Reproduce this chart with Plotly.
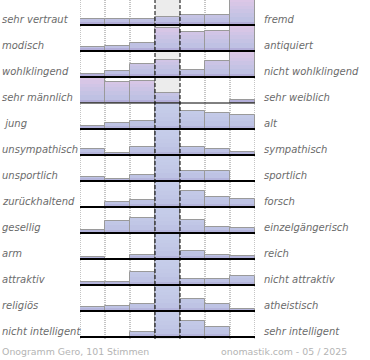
import plotly.graph_objects as go

# ---- data -------------------------------------------------------------
left_labels = ["sehr vertraut", "modisch", "wohlklingend", "sehr männlich", "\u00a0jung",
               "unsympathisch", "unsportlich", "zurückhaltend", "gesellig", "arm",
               "attraktiv", "religiös", "nicht intelligent"]
right_labels = ["fremd", "antiquiert", "nicht wohlklingend", "sehr weiblich", "alt",
                "sympathisch", "sportlich", "forsch", "einzelgängerisch", "reich",
                "nicht attraktiv", "atheistisch", "sehr intelligent"]

# percentage of votes per scale position (1 = left adjective ... 7 = right adjective)
scale_1 = [4.5, 3.0, 2.0, 57.0, 2.0, 4.5, 3.0, 0.0, 2.5, 1.5, 2.0, 3.0, 0.0]
scale_2 = [4.5, 4.0, 5.0, 16.0, 4.5, 1.5, 1.5, 3.5, 9.5, 0.0, 2.0, 4.0, 0.0]
scale_3 = [4.5, 6.0, 10.0, 17.0, 6.0, 6.5, 5.0, 5.5, 11.5, 3.0, 10.0, 5.5, 3.5]
scale_4 = [6.5, 17.5, 13.0, 7.5, 51.0, 74.5, 74.5, 65.5, 57.5, 83.5, 69.0, 71.5, 77.0]
scale_5 = [7.5, 14.5, 5.5, 0.0, 13.5, 6.5, 8.0, 12.0, 10.0, 6.5, 5.0, 9.0, 12.0]
scale_6 = [7.5, 15.5, 12.0, 0.0, 12.5, 4.5, 8.0, 7.5, 5.0, 3.0, 5.0, 5.5, 7.5]
scale_7 = [65.0, 39.5, 52.5, 2.5, 10.5, 2.0, 0.0, 6.0, 4.0, 2.5, 7.0, 1.5, 0.0]

footer_left = "Onogramm Gero, 101 Stimmen"
footer_right = "onomastik.com - 05 / 2025"

# ---- styling ----------------------------------------------------------
columns = [scale_1, scale_2, scale_3, scale_4, scale_5, scale_6, scale_7]
n_rows = len(left_labels)
n_cols = len(columns)
FULL_PCT = 20.0  # percentage that fills one row band

bands = [(0.0, 0.05), (0.05, 0.12), (0.12, 0.30), (0.30, 0.45),
         (0.45, 0.60), (0.60, 0.75), (0.75, 0.88), (0.88, 1.0)]
pink_theme = ["#9f96c9", "#b3aed9", "#bfc1e3", "#c5c3e4", "#cbc4e5", "#d1c5e6", "#d7c6e6", "#dcc7e7"]
blue_theme = ["#a29bca", "#b5b5dc", "#bec3e4", "#c1c7e6", "#c3c9e7", "#c4cbe8", "#c5cce9", "#c6cde9"]

fig = go.Figure()

heights = {}
for r in range(n_rows):
    for c in range(n_cols):
        heights[(r, c)] = min(columns[c][r] / FULL_PCT, 1.0)

for b, (lo, hi) in enumerate(bands):
    xs, bs, ys, cols = [], [], [], []
    for r in range(n_rows):
        base = n_rows - 1 - r
        theme = pink_theme if r < 4 else blue_theme
        for c in range(n_cols):
            h = heights[(r, c)]
            seg = min(h, hi) - lo
            if seg > 0:
                xs.append(c)
                bs.append(base + lo)
                ys.append(seg)
                cols.append(theme[b])
    fig.add_trace(go.Bar(x=xs, y=ys, base=bs, width=1.0,
                         marker=dict(color=cols, line=dict(width=0)),
                         hoverinfo="skip"))

# outline of each bar
xs, bs, ys = [], [], []
for r in range(n_rows):
    base = n_rows - 1 - r
    for c in range(n_cols):
        h = heights[(r, c)]
        if h > 0:
            xs.append(c)
            bs.append(base)
            ys.append(h)
fig.add_trace(go.Bar(x=xs, y=ys, base=bs, width=1.0,
                     marker=dict(color="rgba(0,0,0,0)", line=dict(color="#9a9a9a", width=1)),
                     hoverinfo="skip"))

shapes = []
# neutral middle column background
shapes.append(dict(type="rect", xref="x", yref="paper", x0=2.5, x1=3.5, y0=0, y1=1,
                   fillcolor="#ececec", line=dict(width=0), layer="below"))
# dotted column separators
for xv in [-0.5, 0.5, 1.5, 4.5, 5.5, 6.5]:
    shapes.append(dict(type="line", xref="x", yref="paper", x0=xv, x1=xv, y0=0, y1=1,
                       line=dict(color="#8a8a8a", width=1, dash="1px,1px"), layer="below"))
# dashed middle column borders
for xv in [2.5, 3.5]:
    shapes.append(dict(type="line", xref="x", yref="paper", x0=xv, x1=xv, y0=0, y1=1,
                       line=dict(color="#000000", width=1, dash="4px,2px"), layer="above"))
# row baselines
for r in range(n_rows):
    base = n_rows - 1 - r
    shapes.append(dict(type="line", xref="x", yref="y", x0=-0.5, x1=6.5, y0=base, y1=base,
                       line=dict(color="#000000", width=1 if r == 3 else 2), layer="above"))

label_font = dict(family="DejaVu Sans", size=10, color="#6b6b6b", style="italic")
annotations = []
PLOT_L, PLOT_W = 80, 175
for r in range(n_rows):
    base = n_rows - 1 - r
    annotations.append(dict(text=left_labels[r], xref="paper", yref="y",
                            x=(0 - PLOT_L) / PLOT_W, y=base + 0.21,
                            xanchor="left", yanchor="middle", showarrow=False, font=label_font))
    annotations.append(dict(text=right_labels[r], xref="paper", yref="y",
                            x=(262 - PLOT_L) / PLOT_W, y=base + 0.21,
                            xanchor="left", yanchor="middle", showarrow=False, font=label_font))

footer_font = dict(family="DejaVu Sans", size=9.4, color="#b4b4b4")
annotations.append(dict(text=footer_left, xref="paper", yref="paper",
                        x=(0 - PLOT_L) / PLOT_W, y=(339 - 351) / 339,
                        xanchor="left", yanchor="middle", showarrow=False, font=footer_font))
annotations.append(dict(text=footer_right, xref="paper", yref="paper",
                        x=(219 - PLOT_L) / PLOT_W, y=(339 - 351) / 339,
                        xanchor="left", yanchor="middle", showarrow=False, font=footer_font))

fig.update_layout(
    width=370, height=360, autosize=False,
    margin=dict(l=80, r=115, t=0, b=21, pad=0),
    paper_bgcolor="white", plot_bgcolor="white",
    barmode="overlay", bargap=0, showlegend=False,
    xaxis=dict(range=[-0.5, 6.5], showgrid=False, zeroline=False, showticklabels=False,
               showline=False, fixedrange=True),
    yaxis=dict(range=[-2 / 26, 337 / 26], showgrid=False, zeroline=False, showticklabels=False,
               showline=False, fixedrange=True),
    shapes=shapes, annotations=annotations,
)

fig.write_html("out.html", config={"displayModeBar": False},
               post_script="document.body.style.margin='0';document.body.style.padding='0';")
